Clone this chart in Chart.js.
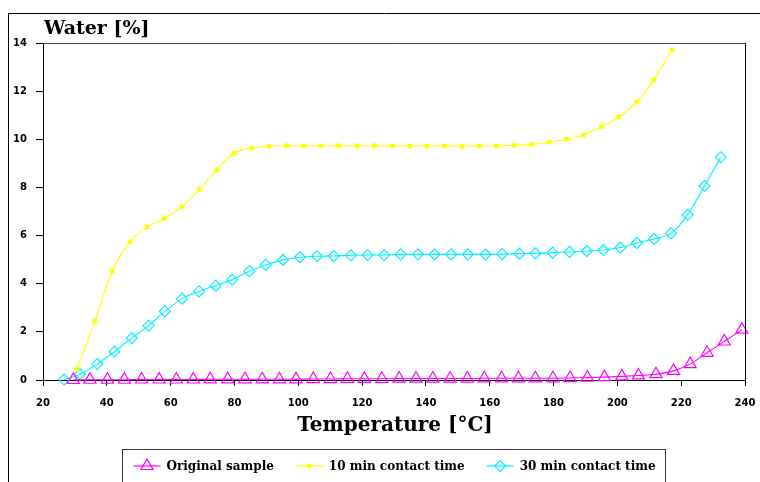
<!DOCTYPE html>
<html>
<head>
<meta charset="utf-8">
<script src="https://cdn.jsdelivr.net/npm/chart.js@4/dist/chart.umd.min.js"></script>
<style>
html,body{margin:0;padding:0;background:#fff;}
#wrap{width:760px;height:482px;position:relative;}
</style>
</head>
<body>
<div id="wrap"><canvas id="c" width="760" height="482"></canvas></div>
<script>
// ---- data ----
const xTicks = [20, 40, 60, 80, 100, 120, 140, 160, 180, 200, 220, 240];
const yTicks = [0, 2, 4, 6, 8, 10, 12, 14];

const seriesNames = ['Original sample', '10 min contact time', '30 min contact time'];

const tOriginal = [29.5, 34.7, 40.2, 45.5, 50.9, 56.4, 61.8, 67.1, 72.4, 77.9, 83.3, 88.7, 94.1, 99.3, 104.7, 110.1, 115.4, 120.7, 126.2, 131.6, 136.9, 142.2, 147.6, 153.0, 158.3, 163.7, 169.0, 174.3, 179.8, 185.2, 190.6, 195.9, 201.4, 206.6, 212.1, 217.6, 222.8, 228.1, 233.5, 239.0];
const wOriginal = [0.0, 0.01, 0.01, 0.01, 0.02, 0.02, 0.02, 0.02, 0.03, 0.03, 0.03, 0.03, 0.03, 0.03, 0.04, 0.04, 0.05, 0.05, 0.05, 0.06, 0.06, 0.06, 0.06, 0.06, 0.07, 0.07, 0.07, 0.07, 0.07, 0.08, 0.10, 0.12, 0.15, 0.19, 0.24, 0.38, 0.66, 1.13, 1.60, 2.09];

const t10 = [30.6, 36.3, 41.7, 47.3, 52.6, 58.0, 63.5, 69.0, 74.5, 80.0, 85.4, 90.8, 96.3, 101.7, 107.1, 112.6, 118.4, 123.9, 129.5, 135.0, 140.4, 145.8, 151.3, 156.7, 162.1, 167.6, 173.1, 178.5, 184.0, 189.4, 195.0, 200.6, 206.1, 211.4, 217.1];
const w10 = [0.46, 2.45, 4.53, 5.75, 6.36, 6.70, 7.19, 7.92, 8.74, 9.43, 9.63, 9.72, 9.73, 9.73, 9.73, 9.73, 9.73, 9.73, 9.72, 9.72, 9.72, 9.72, 9.71, 9.72, 9.73, 9.75, 9.79, 9.88, 10.0, 10.18, 10.52, 10.94, 11.55, 12.46, 13.72];

const t30 = [26.6, 31.6, 37.0, 42.4, 47.8, 53.1, 58.2, 63.6, 68.9, 74.1, 79.3, 84.7, 89.8, 95.2, 100.5, 105.9, 111.1, 116.5, 121.7, 126.9, 132.1, 137.5, 142.7, 147.9, 153.1, 158.7, 163.9, 169.3, 174.3, 179.7, 185.0, 190.4, 195.6, 200.9, 206.1, 211.5, 216.8, 222.0, 227.3, 232.4];
const w30 = [0.02, 0.24, 0.66, 1.18, 1.74, 2.26, 2.85, 3.38, 3.68, 3.92, 4.17, 4.52, 4.78, 4.99, 5.10, 5.14, 5.15, 5.18, 5.19, 5.19, 5.22, 5.22, 5.22, 5.22, 5.22, 5.22, 5.23, 5.25, 5.26, 5.29, 5.32, 5.35, 5.40, 5.50, 5.69, 5.86, 6.09, 6.86, 8.06, 9.25];

const yTitle = 'Water [%]';
const xTitle = 'Temperature [°C]';

// ---- build chart ----
const pts = (xs, ys) => xs.map((x, i) => ({x: x, y: ys[i]}));

const MAGENTA = '#ff00ff', YELLOW = '#ffff00', CYAN = '#00f0ff';

const datasets = [
  {label: seriesNames[0], data: pts(tOriginal, wOriginal), borderColor: MAGENTA, backgroundColor: 'rgba(0,0,0,0)',
   pointStyle: 'triangle', pointRadius: 7, pointBorderColor: MAGENTA, pointBackgroundColor: 'rgba(0,0,0,0)', pointBorderWidth: 1.2},
  {label: seriesNames[1], data: pts(t10, w10), borderColor: YELLOW, backgroundColor: YELLOW,
   pointStyle: 'rect', pointRadius: 2.6, pointBorderColor: YELLOW, pointBackgroundColor: YELLOW, pointBorderWidth: 1},
  {label: seriesNames[2], data: pts(t30, w30), borderColor: CYAN, backgroundColor: 'rgba(0,0,0,0)',
   pointStyle: 'rectRot', pointRadius: 5.5, pointBorderColor: CYAN, pointBackgroundColor: 'rgba(0,0,0,0)', pointBorderWidth: 1.2}
].map(d => Object.assign(d, {showLine: true, borderWidth: 1.1, cubicInterpolationMode: 'monotone', clip: false, pointHoverRadius: d.pointRadius}));

const decor = {
  id: 'decor',
  afterDraw(chart) {
    const ctx = chart.ctx, ca = chart.chartArea;
    ctx.save();
    // outer frame
    ctx.strokeStyle = '#000'; ctx.lineWidth = 1;
    ctx.beginPath();
    ctx.moveTo(8.5, 482); ctx.lineTo(8.5, 13.5); ctx.lineTo(760, 13.5);
    ctx.stroke();
    // plot box top / right
    ctx.strokeStyle = '#444';
    ctx.beginPath(); ctx.moveTo(ca.left, ca.top + 0.5); ctx.lineTo(ca.right + 1, ca.top + 0.5); ctx.stroke();
    ctx.strokeStyle = '#000';
    ctx.beginPath(); ctx.moveTo(ca.right + 0.5, ca.top); ctx.lineTo(ca.right + 0.5, ca.bottom); ctx.stroke();
    // titles
    ctx.fillStyle = '#000';
    ctx.textBaseline = 'alphabetic';
    ctx.font = 'bold 19px "DejaVu Serif"';
    ctx.textAlign = 'left';
    ctx.fillText(yTitle, ca.left + 1, 34);
    ctx.font = 'bold 20px "DejaVu Serif"';
    ctx.textAlign = 'center';
    ctx.fillText(xTitle, (ca.left + ca.right) / 2 + 1, 431);
    // legend
    ctx.font = 'bold 12px "DejaVu Serif"';
    const iconW = 27, gapIT = 6, gapItems = 22, padL = 11, padR = 10;
    const widths = chart.data.datasets.map(d => ctx.measureText(d.label).width);
    let total = padL + padR;
    widths.forEach((w, i) => { total += iconW + gapIT + w + (i < widths.length - 1 ? gapItems : 0); });
    const cx = (ca.left + ca.right) / 2;
    const bx = Math.round(cx - total / 2) + 0.5, by = 449.5, bh = 33;
    ctx.strokeStyle = '#333'; ctx.lineWidth = 1;
    ctx.strokeRect(bx, by, total, bh);
    let x = bx + padL;
    const yc = 466;
    chart.data.datasets.forEach((d, i) => {
      ctx.strokeStyle = d.borderColor; ctx.lineWidth = 1.2;
      ctx.beginPath(); ctx.moveTo(x, yc); ctx.lineTo(x + iconW, yc); ctx.stroke();
      ctx.fillStyle = d.pointBackgroundColor;
      ctx.strokeStyle = d.pointBorderColor;
      ctx.lineWidth = d.pointBorderWidth;
      Chart.helpers.drawPoint(ctx, {pointStyle: d.pointStyle, radius: d.pointRadius, rotation: 0, borderWidth: d.pointBorderWidth}, x + iconW / 2, yc);
      ctx.fillStyle = '#000';
      ctx.textAlign = 'left'; ctx.textBaseline = 'middle';
      ctx.fillText(d.label, x + iconW + gapIT, yc + 0.5);
      x += iconW + gapIT + widths[i] + gapItems;
    });
    ctx.restore();
  }
};

new Chart(document.getElementById('c'), {
  type: 'scatter',
  data: {datasets: datasets},
  options: {
    responsive: false,
    animation: false,
    devicePixelRatio: 1,
    layout: {padding: {top: 43, right: 15, left: 0, bottom: 0}},
    plugins: {legend: {display: false}, tooltip: {enabled: false}, title: {display: false}},
    scales: {
      x: {
        type: 'linear', min: xTicks[0], max: xTicks[xTicks.length - 1],
        afterBuildTicks: s => { s.ticks = xTicks.map(v => ({value: v})); },
        afterFit: s => { s.height = 102; s.paddingLeft = 0; s.paddingRight = 0; },
        grid: {drawOnChartArea: false, drawTicks: true, tickLength: 6, color: '#000'},
        border: {color: '#000', width: 1},
        ticks: {color: '#000', font: {family: 'DejaVu Sans', weight: 'bold', size: 10}, padding: 11, maxRotation: 0, autoSkip: false}
      },
      y: {
        type: 'linear', min: yTicks[0], max: yTicks[yTicks.length - 1],
        afterBuildTicks: s => { s.ticks = yTicks.map(v => ({value: v})); },
        afterFit: s => { s.width = 43; s.paddingTop = 0; s.paddingBottom = 0; },
        grid: {drawOnChartArea: false, drawTicks: true, tickLength: 7, color: '#000'},
        border: {color: '#000', width: 1},
        ticks: {color: '#000', font: {family: 'DejaVu Sans', weight: 'bold', size: 10}, padding: 9, autoSkip: false}
      }
    }
  },
  plugins: [decor]
});
</script>
</body>
</html>
